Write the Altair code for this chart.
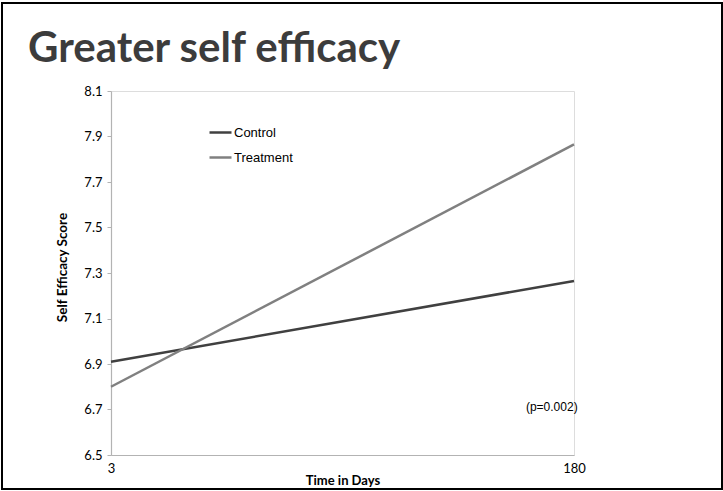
import altair as alt
import pandas as pd

days = [3, 180]
control = [6.91, 7.265]
treatment = [6.80, 7.865]
series = ["Control", "Treatment"]
y_ticks = [6.5, 6.7, 6.9, 7.1, 7.3, 7.5, 7.7, 7.9, 8.1]
note_text = ["(p=0.002)"]
note_x = [171.5]
note_y = [6.712]
title_text = ["Greater self efficacy"]

rows = []
for d, c, t in zip(days, control, treatment):
    rows.append({"day": d, "score": c, "group": "Control"})
    rows.append({"day": d, "score": t, "group": "Treatment"})
df = pd.DataFrame(rows)

x_scale = alt.Scale(domain=[3, 180], nice=False, zero=False)
y_scale = alt.Scale(domain=[6.5, 8.1], nice=False, zero=False)

lines = alt.Chart(df).mark_line(strokeWidth=2.5, clip=False).encode(
    x=alt.X("day:Q", scale=x_scale,
            axis=alt.Axis(values=days, title="Time in Days", grid=False, ticks=False,
                          labelFlush=False,
                          labelFont="Lato", labelFontSize=13, labelColor="#000000",
                          labelPadding=7, domainColor="#b3b3b3", domainWidth=1.2,
                          titleFont="Lato", titleFontWeight="bold", titleFontSize=13,
                          titleColor="#000000", titleY=25, titleBaseline="middle")),
    y=alt.Y("score:Q", scale=y_scale,
            axis=alt.Axis(values=y_ticks, format=".1f", title="Self Efficacy Score", grid=False,
                          tickSize=4, tickColor="#b3b3b3", domainColor="#b3b3b3", domainWidth=1.2,
                          labelFont="Lato", labelFontSize=13, labelColor="#000000", labelPadding=5,
                          titleFont="Lato", titleFontWeight="bold", titleFontSize=13.5,
                          titleColor="#000000", titleX=-49, titleY=176, titleAngle=-90,
                          titleAlign="center", titleBaseline="middle")),
    color=alt.Color("group:N", scale=alt.Scale(domain=series, range=["#404040", "#808080"]),
                    legend=alt.Legend(title=None, orient="none", legendX=97, legendY=29,
                                      symbolType="stroke", symbolSize=484, symbolStrokeWidth=2.5,
                                      labelFont="Liberation Sans", labelFontSize=13,
                                      labelColor="#000000", labelOffset=1, rowPadding=5,
                                      padding=0)),
)

note = alt.Chart(pd.DataFrame({"x": note_x, "y": note_y, "t": note_text})).mark_text(
    font="Liberation Sans", fontSize=12, color="#000000", align="center", baseline="middle"
).encode(x=alt.X("x:Q", scale=x_scale), y=alt.Y("y:Q", scale=y_scale), text="t:N")

title = alt.Chart(pd.DataFrame({"t": title_text})).mark_text(
    font="Lato", fontSize=42, fontWeight="bold", color="#3c3c3c",
    align="left", baseline="alphabetic"
).encode(x=alt.value(-83), y=alt.value(-29), text="t:N")

frame = alt.Chart(pd.DataFrame({"a": [0]})).mark_rect(
    fill=None, stroke="#000000", strokeWidth=2, clip=False
).encode(x=alt.value(-109), x2=alt.value(611), y=alt.value(-88), y2=alt.value(398))

chart = alt.layer(frame, title, lines, note).properties(
    width=463, height=364,
    autosize=alt.AutoSizeParams(type="none"),
    padding={"left": 111, "top": 91, "right": 149, "bottom": 36},
).configure_view(stroke=None).configure(background="#ffffff")

chart.save("out.html", embed_options={"renderer": "svg", "actions": False})
